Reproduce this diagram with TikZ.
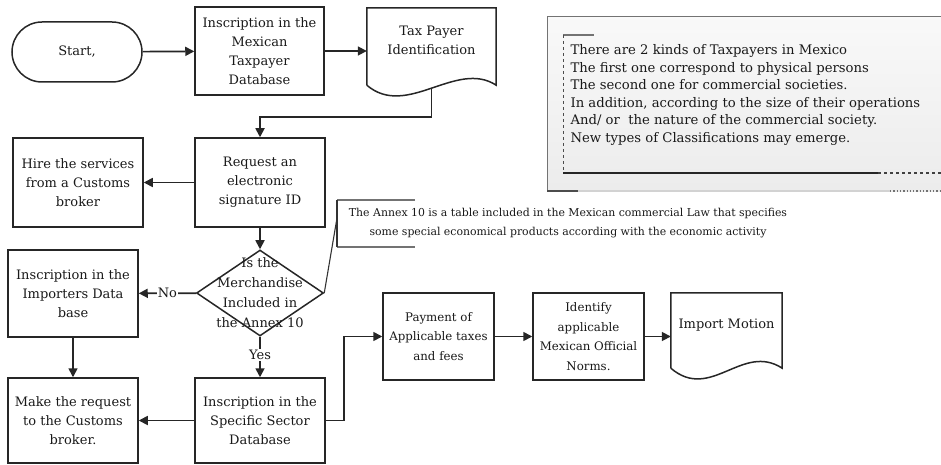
\documentclass[tikz,border=0pt]{standalone}
\usepackage{fontspec}
\setmainfont{DejaVu Serif}
\usetikzlibrary{arrows.meta,shapes.geometric,calc}
\tikzset{
  txt/.style={font=\fontsize{13}{19}\selectfont, text=black!90, align=center},
  smalltxt/.style={font=\fontsize{11.8}{19.5}\selectfont},
  procbox/.style={txt, draw=black!85, line width=1.5pt, inner sep=0pt,
                  minimum width=130pt, minimum height=88pt},
  docnode/.style={txt, draw=none, inner sep=0pt},
  docline/.style={draw=black!85, line width=1.5pt},
  link/.style={draw=black!85, line width=1.7pt},
  flow/.style={link, -{Triangle[length=9pt,width=9pt]}},
  lbl/.style={txt, fill=white, inner sep=1pt},
}
% document symbol: straight top and sides, wavy bottom
\newcommand\docshape[1]{%
  \draw[docline] (#1.south west) -- (#1.north west) -- (#1.north east) -- (#1.south east)
    .. controls ($(#1.south east)+(-40,-26)$) and ($(#1.south west)+(40,34)$) .. (#1.south west);}
\begin{document}
\begin{tikzpicture}[x=1pt,y=-1pt]
\useasboundingbox (0,0) rectangle (941,465);

% ---------- side note on taxpayer kinds ----------
\fill[top color=gray!5, bottom color=gray!15] (547,17) rectangle (945,191);
\draw[black!55, line width=1pt] (547,191) -- (547,17) -- (945,17);
\draw[black!70, line width=1.6pt] (547,191) -- (578,191);
\draw[gray!35, line width=2.2pt] (578,191) -- (890,191);
\draw[black!55, dotted, line width=1.3pt] (890,191) -- (945,191);
\draw[black!55, line width=1.8pt] (563,35) -- (594,35);
\draw[black!70, dashed, line width=0.9pt] (563,35) -- (563,173);
\draw[black!85, line width=1.4pt] (563,173) -- (878,173);
\draw[black!75, dashed, line width=1.4pt] (878,173) -- (945,173);
\node[txt, font=\fontsize{13.2}{17.5}\selectfont, align=left, anchor=west] (kinds) at (567,95)
  {There are 2 kinds of Taxpayers in Mexico\\
   The first one correspond to physical persons\\
   The second one for commercial societies.\\
   In addition, according to the size of their operations\\
   And/ or\ \ the nature of the commercial society.\\
   New types of Classifications may emerge.};

% ---------- top row ----------
\node[txt, draw=black!85, line width=1.5pt, rounded corners=30pt,
      minimum width=130pt, minimum height=60pt] (start) at (77,52) {Start,};
\node[procbox, minimum width=129pt] (mtd) at (259.5,51) {Inscription in the\\Mexican\\Taxpayer\\Database};
\node[docnode, minimum width=129pt, minimum height=77pt] (tpi) at (431.5,46.5) {};
\docshape{tpi}
\node[txt] at (431.5,40) {Tax Payer\\Identification};
\coordinate (tpiout) at ($(tpi.south)+(0,3)$);

% ---------- middle rows ----------
\node[procbox, minimum height=89pt] (req) at (260,182.5) {Request an\\electronic\\signature ID};
\node[procbox, minimum height=89pt] (hire) at (78,182.5) {Hire the services\\from a Customs\\broker};
\node[diamond, draw=black!85, line width=1.5pt, inner sep=0pt,
      minimum width=127pt, minimum height=86pt] (dm) at (260,293) {};
\node[txt, font=\fontsize{13}{20}\selectfont] at (dm) {Is the\\Merchandise\\Included in\\the Annex 10};
\node[procbox, minimum height=87pt] (imp) at (73,293.5) {Inscription in the\\Importers Data\\base};

% ---------- bottom row ----------
\node[procbox, minimum height=85pt] (make) at (73,420.5) {Make the request\\to the Customs\\broker.};
\node[procbox, minimum height=85pt] (spec) at (260,420.5) {Inscription in the\\Specific Sector\\Database};
\node[procbox, smalltxt, minimum width=111pt, minimum height=87pt] (pay) at (438.5,336.5) {Payment of\\Applicable taxes\\and fees};
\node[procbox, smalltxt, minimum width=111pt, minimum height=87pt] (idn) at (588.5,336.5) {Identify\\applicable\\Mexican Official\\Norms.};
\node[docnode, minimum width=111pt, minimum height=75pt] (mot) at (726.5,330.5) {};
\docshape{mot}
\node[txt] at (726.5,325) {Import Motion};

% ---------- annex 10 remark ----------
\coordinate (abt) at (415,200);
\coordinate (atl) at (337,200);
\coordinate (abl) at (337,247);
\coordinate (abb) at (415,247);
\coordinate (acall) at (337,218);
\draw[black!55, line width=1.8pt] (abt) -- (atl);
\draw[black!55, line width=1.8pt] (abl) -- (abb);
\draw[black!80, line width=1.1pt] (atl) -- (abl);
\draw[black!80, line width=1.1pt] (dm.east) -- (acall);
\node[txt, font=\fontsize{10.9}{19}\selectfont] (annex) at (568,223)
  {The Annex 10 is a table included in the Mexican commercial Law that specifies\\
   some special economical products according with the economic activity};

% ---------- connectors ----------
\draw[flow] (start) -- (mtd);
\draw[flow] (mtd.east) -- (mtd.east -| tpi.west);
\draw[flow] (tpiout) -- ++(0,29) -| (req.north);
\draw[flow] (req) -- (hire);
\draw[flow] (req) -- (dm);
\draw[flow] (dm) -- node[lbl] {No} (imp);
\draw[flow] (dm) -- node[lbl, pos=0.45] {Yes} (spec);
\draw[flow] (imp) -- (make);
\draw[flow] (spec) -- (make);
\draw[flow] (spec.east) -- ++(18,0) |- (pay.west);
\draw[flow] (pay) -- (idn);
\draw[flow] (idn.east) -- (idn.east -| mot.west);
\end{tikzpicture}
\end{document}
